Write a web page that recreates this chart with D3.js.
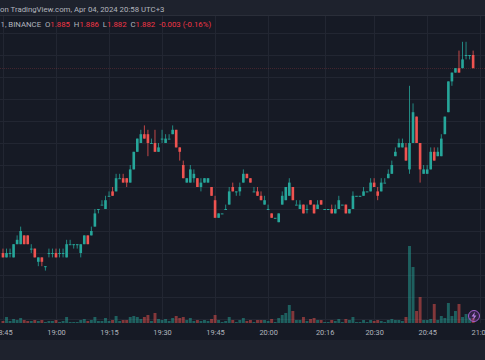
<!DOCTYPE html>
<html><head><meta charset="utf-8">
<script src="https://cdn.jsdelivr.net/npm/d3@7"></script>
<style>html,body{margin:0;padding:0;background:#161a25;overflow:hidden}</style>
</head><body>
<svg id="c" width="485" height="360"></svg>
<script>
// 1-minute candles starting 18:45, Apr 04 2024 (UTC+3 display)
const startTime = "18:45";
const opens = [
1.840,1.839,1.840,1.839,1.842,1.842,1.844,1.844,1.841,1.841,1.838,1.839,1.837,1.840,1.840,
1.840,1.840,1.840,1.839,1.842,1.842,1.842,1.840,1.842,1.844,1.844,1.846,1.850,1.851,1.850,1.853,1.854,1.854,
1.857,1.857,1.857,1.856,1.859,1.863,1.865,1.867,1.867,1.865,1.865,1.863,1.866,1.865,1.866,1.867,1.868,1.864,
1.860,1.856,1.856,1.857,1.857,1.855,1.856,1.856,1.855,1.852,1.848,1.849,1.850,1.851,1.855,1.854,1.854,1.856,
1.858,1.857,1.854,1.854,1.853,1.851,1.850,1.849,1.848,1.847,1.851,1.852,1.853,1.855,1.851,1.850,1.851,1.850,
1.852,1.851,1.850,1.852,1.850,1.850,1.850,1.849,1.850,1.851,1.851,1.849,1.850,1.853,1.853,1.853,1.854,1.854,
1.856,1.854,1.854,1.856,1.857,1.858,1.862,1.864,1.864,1.864,1.859,1.865,1.871,1.865,1.858,1.858,1.859,1.863,
1.862,1.862,1.867,1.872,1.879,1.881,1.882,1.882,1.885,1.885,1.885];
const highs = [
1.841,1.841,1.841,1.842,1.844,1.846,1.844,1.844,1.842,1.841,1.839,1.839,1.837,1.841,1.841,
1.841,1.841,1.841,1.843,1.843,1.842,1.842,1.842,1.844,1.844,1.846,1.850,1.850,1.852,1.853,1.854,1.855,1.858,
1.858,1.858,1.857,1.860,1.863,1.866,1.868,1.869,1.868,1.866,1.868,1.865,1.868,1.867,1.867,1.869,1.868,1.864,
1.861,1.857,1.860,1.859,1.857,1.857,1.857,1.857,1.855,1.853,1.849,1.849,1.851,1.855,1.856,1.854,1.856,1.859,
1.858,1.857,1.855,1.855,1.854,1.853,1.851,1.849,1.848,1.849,1.854,1.855,1.857,1.855,1.852,1.852,1.851,1.851,
1.852,1.851,1.852,1.852,1.850,1.850,1.851,1.851,1.853,1.851,1.851,1.850,1.854,1.853,1.853,1.855,1.854,1.857,
1.857,1.855,1.857,1.857,1.859,1.861,1.864,1.866,1.866,1.865,1.878,1.874,1.871,1.865,1.860,1.860,1.864,1.864,
1.864,1.867,1.871,1.879,1.881,1.882,1.886,1.888,1.888,1.885,1.886];
const lows = [
1.839,1.839,1.839,1.839,1.842,1.842,1.842,1.842,1.840,1.839,1.837,1.837,1.836,1.839,1.839,
1.839,1.839,1.839,1.839,1.842,1.841,1.841,1.839,1.842,1.842,1.844,1.846,1.849,1.851,1.850,1.853,1.853,1.854,
1.857,1.856,1.855,1.856,1.859,1.863,1.865,1.866,1.862,1.865,1.863,1.863,1.865,1.865,1.866,1.867,1.864,1.861,
1.857,1.856,1.856,1.856,1.855,1.854,1.856,1.856,1.853,1.848,1.848,1.849,1.850,1.851,1.854,1.853,1.853,1.856,
1.857,1.856,1.854,1.853,1.852,1.851,1.850,1.848,1.848,1.847,1.851,1.852,1.853,1.852,1.851,1.850,1.849,1.849,
1.851,1.849,1.850,1.851,1.850,1.850,1.849,1.849,1.850,1.851,1.849,1.849,1.850,1.853,1.853,1.853,1.854,1.854,
1.855,1.852,1.854,1.856,1.857,1.858,1.862,1.864,1.864,1.861,1.858,1.865,1.865,1.856,1.858,1.858,1.859,1.861,
1.862,1.862,1.867,1.872,1.878,1.881,1.881,1.882,1.884,1.884,1.882];
const closes = [
1.839,1.840,1.840,1.842,1.843,1.845,1.842,1.842,1.841,1.839,1.839,1.838,1.837,1.840,1.840,
1.839,1.840,1.840,1.842,1.842,1.842,1.842,1.842,1.844,1.842,1.845,1.849,1.850,1.851,1.852,1.853,1.853,1.857,
1.857,1.856,1.856,1.859,1.863,1.866,1.867,1.866,1.865,1.865,1.863,1.864,1.866,1.866,1.866,1.868,1.864,1.863,
1.857,1.857,1.859,1.858,1.855,1.856,1.857,1.857,1.853,1.848,1.849,1.849,1.850,1.854,1.854,1.854,1.855,1.858,
1.857,1.856,1.854,1.853,1.852,1.852,1.850,1.848,1.848,1.849,1.853,1.855,1.856,1.852,1.851,1.851,1.849,1.850,
1.851,1.849,1.851,1.851,1.850,1.850,1.849,1.850,1.852,1.851,1.849,1.850,1.853,1.853,1.853,1.854,1.854,1.856,
1.855,1.853,1.856,1.856,1.858,1.860,1.863,1.865,1.865,1.861,1.865,1.872,1.865,1.859,1.859,1.859,1.863,1.861,
1.863,1.866,1.871,1.879,1.881,1.882,1.881,1.884,1.885,1.885,1.882];
const volumes = [
10,30,10,20,15,25,15,10,10,15,10,15,5,10,10,
15,5,10,30,5,5,5,15,20,10,15,30,10,10,25,10,15,35,
10,15,15,30,35,30,20,30,40,10,50,20,15,20,10,25,35,25,
30,15,25,10,15,10,15,10,20,40,15,5,10,30,15,5,15,25,
10,15,5,15,15,15,10,20,5,25,40,50,90,60,15,15,30,10,
20,25,15,15,5,5,15,10,20,5,20,15,30,5,5,15,5,15,
10,15,10,5,15,20,15,15,10,30,385,280,60,130,15,15,20,95,
15,35,25,100,35,60,95,30,45,25,25];
const tickLabels = ["18:45","19:00","19:15","19:30","19:45","20:00","20:16","20:30","20:45","21:00"];
const headerText = "on TradingView.com, Apr 04, 2024 20:58 UTC+3";
const legendParts = [
  {t:"1, BINANCE  ", c:"#b2b5be"},
  {t:"O", c:"#b2b5be"}, {t:"1.885  ", c:"#f23645"},
  {t:"H", c:"#b2b5be"}, {t:"1.886  ", c:"#f23645"},
  {t:"L", c:"#b2b5be"}, {t:"1.882  ", c:"#f23645"},
  {t:"C", c:"#b2b5be"}, {t:"1.882  ", c:"#f23645"},
  {t:"-0.003 (-0.16%)", c:"#f23645"}
];

const UP = "#26a69a", DN = "#ef5350";
const svg = d3.select("#c");
const day = (hm) => { const [h,m] = hm.split(":").map(Number); return new Date(Date.UTC(2024,3,4,h,m)); };
const t0 = day(startTime);
const data = opens.map((o,i)=>({t:new Date(t0.getTime()+i*60000), o, h:highs[i], l:lows[i], c:closes[i], v:volumes[i]}));

const x = d3.scaleUtc().domain([day("19:00"), day("21:00")]).range([56, 480.2]);
const y = d3.scaleLinear().domain([1.840, 1.885]).range([253, 55]);
const yv = d3.scaleLinear().domain([0, 400]).range([323, 243]);
const step = x(new Date(t0.getTime()+60000)) - x(t0);
const bw = step*0.74;

// backgrounds
svg.append("rect").attr("width",485).attr("height",360).attr("fill","#161a25");
svg.append("rect").attr("width",485).attr("height",15).attr("fill","#1e222d");
svg.append("line").attr("x1",0).attr("x2",485).attr("y1",15.5).attr("y2",15.5).attr("stroke","#2a2e39");
svg.append("rect").attr("y",340).attr("width",485).attr("height",20).attr("fill","#1e222d");

const pane = svg.append("g");
pane.append("clipPath").attr("id","clip").append("rect").attr("x",0).attr("y",16).attr("width",485).attr("height",308);
const g = pane.append("g").attr("clip-path","url(#clip)");

// grid
const tickDates = tickLabels.map(day);
const gridPrices = d3.range(1.825, 1.8925, 0.005);
g.selectAll(".hg").data(gridPrices).join("line")
  .attr("x1",0).attr("x2",485).attr("y1",d=>Math.round(y(d))+0.5).attr("y2",d=>Math.round(y(d))+0.5)
  .attr("stroke","#222632").attr("stroke-width",1);
g.selectAll(".vg").data(tickDates).join("line")
  .attr("x1",d=>Math.round(x(d))+0.5).attr("x2",d=>Math.round(x(d))+0.5).attr("y1",16).attr("y2",323)
  .attr("stroke","#222632").attr("stroke-width",1);

// volume
g.selectAll(".vol").data(data).join("rect")
  .attr("x",d=>x(d.t)-step/2+0.3).attr("width",step-0.6)
  .attr("y",d=>yv(d.v)).attr("height",d=>yv(0)-yv(d.v))
  .attr("fill",d=>d.c>=d.o?UP:DN).attr("opacity",0.5);

// price line
g.append("line").attr("x1",0).attr("x2",485)
  .attr("y1",Math.round(y(closes[closes.length-1]))+0.5).attr("y2",Math.round(y(closes[closes.length-1]))+0.5)
  .attr("stroke",DN).attr("stroke-opacity",0.3).attr("stroke-width",0.7).attr("stroke-dasharray","1,1");

// candles
const cg = g.selectAll(".cd").data(data).join("g");
cg.append("line")
  .attr("x1",d=>x(d.t)).attr("x2",d=>x(d.t))
  .attr("y1",d=>y(d.h)).attr("y2",d=>y(d.l))
  .attr("stroke",d=>d.c>=d.o?UP:DN).attr("stroke-width",0.8);
cg.append("rect")
  .attr("x",d=>x(d.t)-bw/2).attr("width",bw)
  .attr("y",d=>Math.min(y(d.o),y(d.c)))
  .attr("height",d=>Math.max(1,Math.abs(y(d.o)-y(d.c))))
  .attr("fill",d=>d.c>=d.o?UP:DN);

// time axis
const ax = svg.append("g").attr("transform","translate(0,329.3)")
  .call(d3.axisBottom(x).tickValues(tickDates).tickFormat((d,i)=>tickLabels[i]).tickSize(0).tickPadding(0));
ax.select(".domain").remove();
ax.selectAll("text").attr("fill","#b2b5be").style("font-family","Roboto, sans-serif").style("font-size","7.4px");

// header
svg.append("text").attr("x",0).attr("y",11.6).attr("fill","#b2b5be")
  .style("font-family","Roboto, sans-serif").style("font-size","7.8px").text(headerText);

// legend
const lg = svg.append("text").attr("x",0.5).attr("y",27.3).style("font-family","Roboto, sans-serif").style("font-size","7.8px")
  .attr("xml:space","preserve");
legendParts.forEach(p=>lg.append("tspan").attr("fill",p.c).text(p.t));

// lightning icon
const ic = svg.append("g").attr("transform","translate(474,316)");
ic.append("circle").attr("r",5.5).attr("fill","rgba(130,60,170,0.25)").attr("stroke","#a45fd0").attr("stroke-width",1);
ic.append("path").attr("d","M1,-4.2 L-2.4,0.6 L-0.2,0.6 L-1,4.2 L2.4,-0.6 L0.2,-0.6 Z").attr("fill","#b47ee0");
</script>
</body></html>
